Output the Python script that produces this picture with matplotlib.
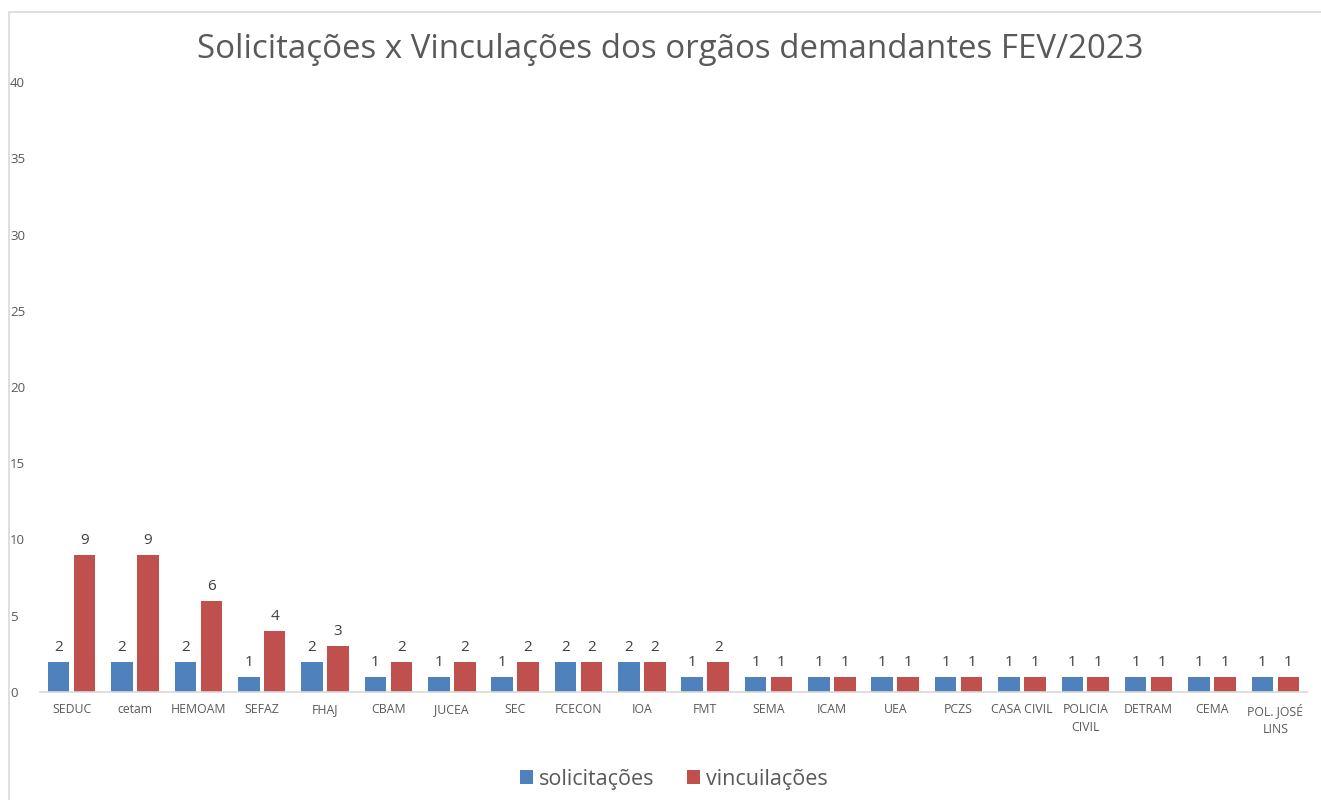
import matplotlib
matplotlib.use("Agg")
import matplotlib.pyplot as plt
import numpy as np
from matplotlib.patches import Rectangle

categories = ["SEDUC", "cetam", "HEMOAM", "SEFAZ", "FHAJ", "CBAM", "JUCEA", "SEC",
              "FCECON", "IOA", "FMT", "SEMA", "ICAM", "UEA", "PCZS", "CASA CIVIL",
              "POLICIA\nCIVIL", "DETRAM", "CEMA", "POL. JOSÉ\nLINS"]
solicitacoes = [2, 2, 2, 1, 2, 1, 1, 1, 2, 2, 1, 1, 1, 1, 1, 1, 1, 1, 1, 1]
vinculacoes = [9, 9, 6, 4, 3, 2, 2, 2, 2, 2, 2, 1, 1, 1, 1, 1, 1, 1, 1, 1]
series_names = ["solicitações", "vincuilações"]
title = "Solicitações x Vinculações dos orgãos demandantes FEV/2023"

plt.rcParams['font.family'] = ['Open Sans', 'DejaVu Sans']
BLUE = "#4F81BD"
RED = "#C0504D"
TXT = "#595959"

fig = plt.figure(figsize=(13.21, 8.0), dpi=100)
fig.patches.append(Rectangle((9/1321, -0.05), 1.1, 1.05 - 12/800, transform=fig.transFigure,
                             fill=False, edgecolor="#D9D9D9", linewidth=1.2))
ax = fig.add_axes([40/1321, 1 - 692/800, (1307 - 40)/1321, (692 - 82)/800])

x = np.arange(len(categories))
w = 0.34
off = 0.205
b1 = ax.bar(x - off, solicitacoes, w, color=BLUE, label=series_names[0])
b2 = ax.bar(x + off, vinculacoes, w, color=RED, label=series_names[1])
for bars in (b1, b2):
    ax.bar_label(bars, padding=5, fontsize=11, color="#404040")

ax.set_xlim(-0.5, len(categories) - 0.5)
ax.set_ylim(0, 40)
ax.set_yticks(range(0, 41, 5))
ax.set_xticks(x)
ax.set_xticklabels(categories, fontsize=8.8, color=TXT, linespacing=1.5)
ax.tick_params(axis='y', length=0, labelsize=9.5, labelcolor=TXT, pad=0)
ax.tick_params(axis='x', length=0, pad=8)
for lbl in ax.get_yticklabels():
    lbl.set_horizontalalignment('left')
    lbl.set_x(-30/1267)
for s in ["top", "right", "left"]:
    ax.spines[s].set_visible(False)
ax.spines["bottom"].set_color("#D9D9D9")
ax.spines["bottom"].set_linewidth(1.2)

fig.text(670/1321, 1 - 49/800, title, ha="center", va="center", fontsize=23.8, color=TXT)
fig.legend(handles=[b1, b2], labels=series_names, loc="center", bbox_to_anchor=(674/1321, 1 - 779/800),
           ncol=2, frameon=False, fontsize=15.5, labelcolor=TXT, handlelength=0.6, handleheight=0.6,
           handletextpad=0.3, columnspacing=1.5)

fig.savefig("out.png", dpi=100)
